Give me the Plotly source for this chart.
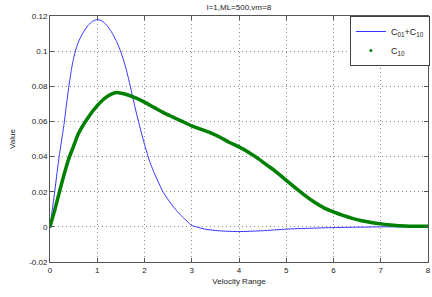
import plotly.graph_objects as go

# Blue curve: C01 + C10
blue_v = [0, 0.05, 0.1, 0.15, 0.2, 0.25, 0.3, 0.35, 0.4, 0.45, 0.5, 0.55, 0.6, 0.7, 0.8,
          0.9, 1.0, 1.1, 1.2, 1.3, 1.4, 1.5, 1.6, 1.7, 1.8, 1.9, 2.0, 2.1, 2.2, 2.3, 2.4,
          2.5, 2.6, 2.7, 2.8, 2.9, 3.0, 3.3, 3.6, 4.0, 4.5, 5.0, 5.5, 6.0, 6.5, 7.0, 7.5, 8.0]
blue_val = [0, 0.010, 0.020, 0.031, 0.041, 0.050, 0.059, 0.070, 0.080, 0.089, 0.0960,
            0.1012, 0.1052, 0.1105, 0.1145, 0.1170, 0.118, 0.1172, 0.1148, 0.1110, 0.1060,
            0.0995, 0.091, 0.080, 0.068, 0.057, 0.047, 0.038, 0.031, 0.025, 0.0195,
            0.0155, 0.0118, 0.0086, 0.0058, 0.0032, 0.0008, -0.0014, -0.0023, -0.0027,
            -0.0022, -0.0013, -0.0008, -0.0004, -0.0002, 0.0, 0.0, 0.0]

# Green series: C10
green_v = [0, 0.1, 0.2, 0.3, 0.4, 0.5, 0.6, 0.8, 1.0, 1.2, 1.4, 1.6, 1.8, 2.0, 2.2,
           2.4, 2.6, 2.8, 3.0, 3.2, 3.4, 3.6, 3.8, 4.0, 4.2, 4.4, 4.6, 4.8, 5.0, 5.2,
           5.4, 5.6, 5.8, 6.0, 6.2, 6.4, 6.6, 6.8, 7.0, 7.2, 7.4, 7.6, 7.8, 8.0]
green_val = [0, 0.0095, 0.020, 0.030, 0.039, 0.046, 0.053, 0.062, 0.069, 0.074, 0.0765,
             0.0755, 0.0735, 0.071, 0.068, 0.065, 0.0625, 0.060, 0.0575, 0.0555, 0.0535,
             0.051, 0.048, 0.0455, 0.0425, 0.039, 0.035, 0.031, 0.0265, 0.022, 0.0178,
             0.014, 0.0108, 0.0085, 0.0065, 0.0048, 0.0035, 0.0025, 0.0017, 0.0011,
             0.0006, 0.0003, 0.0003, 0.0003]

x_ticks = [0, 1, 2, 3, 4, 5, 6, 7, 8]
y_ticks = [-0.02, 0, 0.02, 0.04, 0.06, 0.08, 0.1, 0.12]
y_labels = ["-0.02", "0", "0.02", "0.04", "0.06", "0.08", "0.1", "0.12"]

FONT = "Liberation Sans, Arial, sans-serif"

fig = go.Figure()
fig.add_trace(go.Scatter(x=blue_v, y=blue_val, mode="lines",
                         line=dict(color="#3333ff", width=1, shape="spline", smoothing=0.5),
                         name="C<sub>01</sub>+C<sub>10</sub>"))
fig.add_trace(go.Scatter(x=green_v, y=green_val, mode="lines",
                         line=dict(color="#008000", width=3.5, shape="spline", smoothing=0.6),
                         showlegend=False, hoverinfo="skip"))
fig.add_trace(go.Scatter(x=green_v, y=green_val, mode="markers", marker=dict(color="#008000", size=3),
                         name="C<sub>10</sub>"))

axis_common = dict(showline=True, linecolor="#555555", linewidth=1, mirror="ticks", ticks="inside",
                   ticklen=4, tickcolor="#555555", showgrid=True, gridcolor="#8a8a8a",
                   griddash="1px,3px", gridwidth=1, zeroline=False, automargin=False,
                   tickfont=dict(family=FONT, size=8, color="#222"))

fig.update_layout(
    width=432, height=297,
    margin=dict(l=50, r=2, t=16, b=35),
    paper_bgcolor="white", plot_bgcolor="white",
    title=dict(text="l=1,ML=500,vm=8", xref="paper", x=0.5, xanchor="center", y=0.985, yanchor="top",
               font=dict(family=FONT, size=8, color="#222")),
    xaxis=dict(range=[0, 8], tickvals=x_ticks, title=dict(text="Velocity Range", standoff=4,
               font=dict(family=FONT, size=8, color="#222")), **axis_common),
    yaxis=dict(range=[-0.02, 0.12], tickvals=y_ticks, ticktext=y_labels,
               title=dict(text="Value", standoff=12, font=dict(family=FONT, size=8, color="#222")),
               **axis_common),
    legend=dict(x=1.005, y=1, xanchor="right", yanchor="top", bgcolor="white", bordercolor="#404040",
                borderwidth=1, font=dict(family=FONT, size=9, color="#222"),
                tracegroupgap=0, itemwidth=30),
    showlegend=True,
)

fig.write_html("out.html", config={"displayModeBar": False},
               post_script="document.body.style.margin='0px';")
